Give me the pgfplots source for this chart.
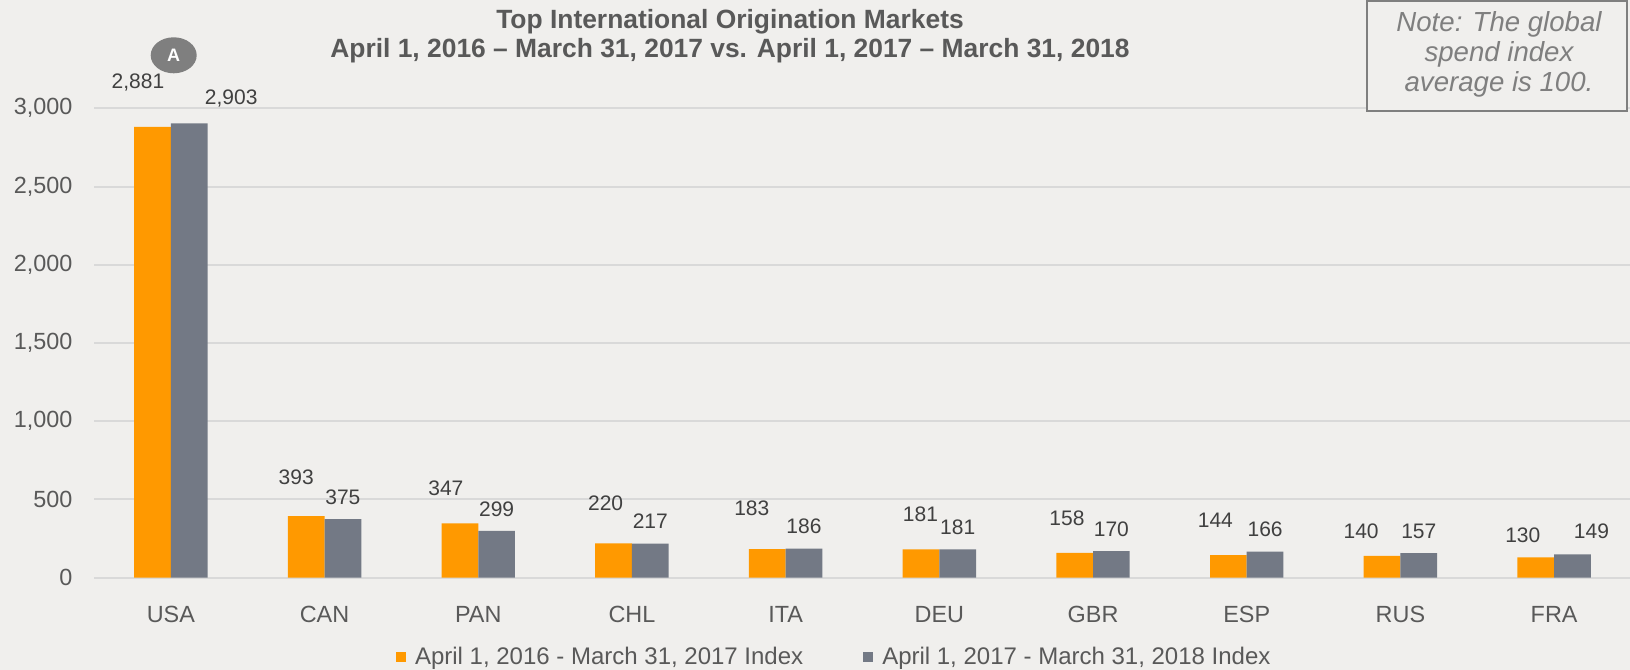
\documentclass[border=0pt]{standalone}
\usepackage{pgfplots}
\pgfplotsset{compat=1.18}
\usepackage{pgfplotstable}
\usepackage{fontspec}
\setmainfont{Liberation Sans}
\definecolor{bg}{HTML}{F0EFED}
\definecolor{orng}{HTML}{FF9900}
\definecolor{gry}{HTML}{737985}
\definecolor{gridc}{HTML}{D9D9D9}
\definecolor{txt}{HTML}{595959}
\definecolor{lbl}{HTML}{404040}
\definecolor{notec}{HTML}{7F7F7F}

\pgfplotstableread{
x a b dxa dya dxb dyb
0 2881 2903 -7.25 22 21 12.25
1 393 375 -5 19.25 0 10.65
2 347 299 -7 17.7 0 11
3 220 217 -4 20 0 11.2
4 183 186 -7.75 20.5 0 11.3
5 181 181 -0.25 17.8 0 11
6 158 170 -3.85 17.5 0 10.8
7 144 166 -6.5 17.35 0 11.1
8 140 157 -10.5 12.25 0 10.9
9 130 149 -6.5 11.2 9.5 11.35
}\datatable

\begin{document}
\begin{tikzpicture}
\fill[bg] (0,0) rectangle (815pt,335pt);
\useasboundingbox (0,0) rectangle (815pt,335pt);
\begin{axis}[
  at={(47pt,46.15pt)}, anchor=south west,
  scale only axis, width=768.5pt, height=234.7pt,
  xmin=-0.5, xmax=9.5, ymin=0, ymax=3000,
  clip=false,
  ybar=0pt, bar width=18.35pt,
  xtick={0,...,9},
  xticklabels={USA,CAN,PAN,CHL,ITA,DEU,GBR,ESP,RUS,FRA},
  ytick={0,500,...,3000},
  ymajorgrids, grid style={draw=gridc, line width=1pt},
  axis line style={draw=none}, major tick style={draw=none},
  scaled y ticks=false,
  /pgf/number format/assume math mode=true,
  ticklabel style={font=\fontsize{11.7}{14}\selectfont, text=txt},
  yticklabel style={anchor=east, inner sep=0pt, xshift=-10.6pt},
  xticklabel style={anchor=center, inner sep=0pt, yshift=-14.25pt},
  every node near coord/.append style={font=\fontsize{10.5}{12}\selectfont, text=lbl, anchor=center, inner sep=0pt},
  legend columns=2,
  legend style={draw=none, fill=none, inner sep=0pt, outer sep=0pt,
    at={(axis description cs:0.1965,-0.1689)}, anchor=west,
    font=\fontsize{12}{14}\selectfont, text=txt,
    nodes={inner sep=0pt}},
  legend image code/.code={\fill[#1] (0pt,-2.4pt) rectangle (4.8pt,2.4pt);},
]
\addlegendimage{fill=orng, draw=none}
\addlegendentry{\kern4.7pt April 1, 2016 - March 31, 2017 Index\kern30pt}
\addlegendimage{fill=gry, draw=none}
\addlegendentry{\kern4.7pt April 1, 2017 - March 31, 2018 Index}
\addplot[forget plot, fill=orng, draw=none, bar shift=-9.175pt,
  visualization depends on={\thisrow{dxa} \as \dx},
  visualization depends on={\thisrow{dya} \as \dy},
  nodes near coords={\pgfmathprintnumber{\pgfplotspointmeta}},
  nodes near coords style={xshift=\dx pt, yshift=\dy pt}]
  table[x=x, y=a]{\datatable};
\addplot[forget plot, fill=gry, draw=none, bar shift=9.175pt,
  visualization depends on={\thisrow{dxb} \as \dx},
  visualization depends on={\thisrow{dyb} \as \dy},
  nodes near coords={\pgfmathprintnumber{\pgfplotspointmeta}},
  nodes near coords style={xshift=\dx pt, yshift=\dy pt}]
  table[x=x, y=b]{\datatable};
\end{axis}
% title
\node[anchor=base, font=\bfseries\fontsize{13.2}{15}\selectfont, text=txt] at (365pt,320.6pt) {Top International Origination Markets};
\node[anchor=base, font=\bfseries\fontsize{13.2}{15}\selectfont, text=txt] at (365pt,306.3pt) {April 1, 2016 -- March 31, 2017 vs. April 1, 2017 -- March 31, 2018};
% note box
\draw[line width=1pt, draw=notec, fill=bg] (683.5pt,279.5pt) rectangle (813.5pt,334.5pt);
\begin{scope}[every node/.style={anchor=base, font=\itshape\fontsize{13.8}{15}\selectfont, text=notec}]
\node at (749.5pt,319.2pt) {Note: The global};
\node at (749.5pt,304.2pt) {spend index};
\node at (749.5pt,289.2pt) {average is 100.};
\end{scope}
% badge
\fill[notec] (86.85pt,307.35pt) ellipse [x radius=11.5pt, y radius=9pt];
\node[text=white, font=\bfseries\fontsize{9}{10}\selectfont] at (86.85pt,307.35pt) {A};
\end{tikzpicture}
\end{document}
